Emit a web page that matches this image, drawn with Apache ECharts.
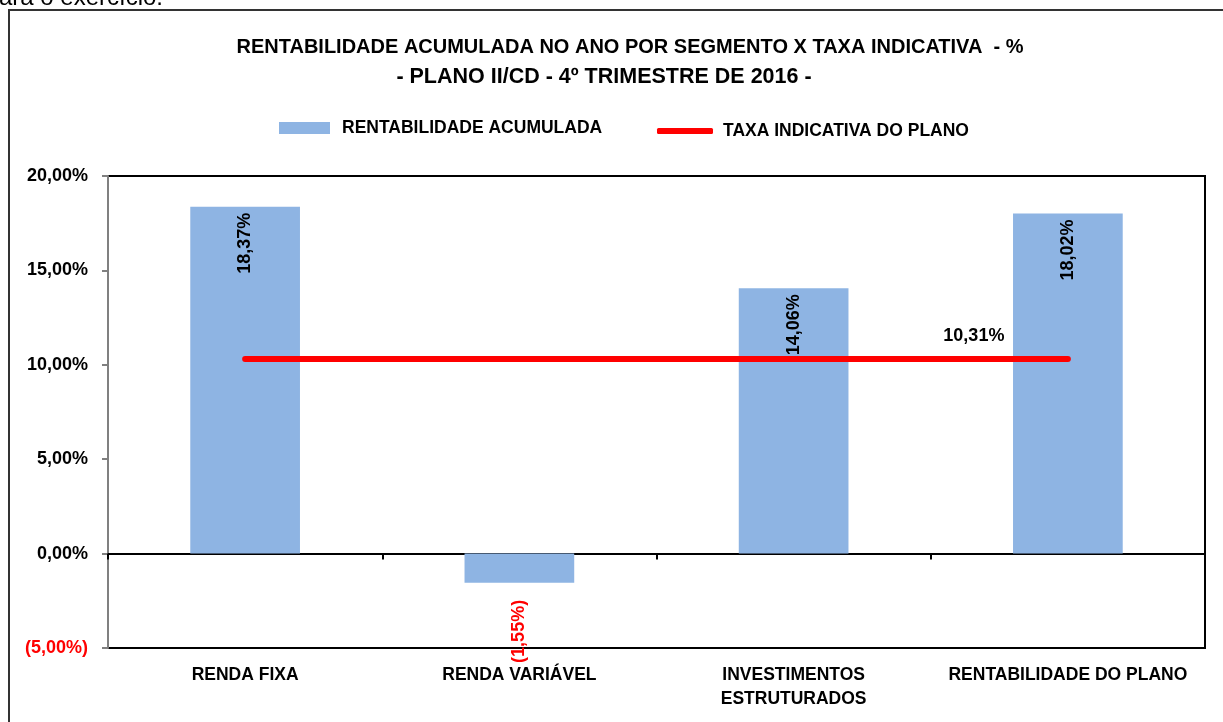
<!DOCTYPE html>
<html>
<head>
<meta charset="utf-8">
<script src="https://cdn.jsdelivr.net/npm/echarts@6/dist/echarts.min.js"></script>
<style>
html,body{margin:0;padding:0;background:#fff;}
#chart{width:1223px;height:722px;}
</style>
</head>
<body>
<div id="chart"></div>
<script>
const categories = ['RENDA FIXA', 'RENDA VARIÁVEL', 'INVESTIMENTOS\nESTRUTURADOS', 'RENTABILIDADE DO PLANO'];
const rentabilidade = [18.37, -1.55, 14.06, 18.02];
const taxaIndicativa = [10.31, 10.31, 10.31, 10.31];
const yTicks = [-5, 0, 5, 10, 15, 20];
const titleLine1 = 'RENTABILIDADE ACUMULADA NO ANO POR SEGMENTO X TAXA INDICATIVA  - %';
const titleLine2 = '- PLANO II/CD - 4º TRIMESTRE DE 2016 -';
const seriesNames = ['RENTABILIDADE ACUMULADA', 'TAXA INDICATIVA DO PLANO'];

const ARIAL = "'Liberation Sans', Arial, sans-serif";

function fmt(v) {
  const s = Math.abs(v).toFixed(2).replace('.', ',') + '%';
  return v < 0 ? '(' + s + ')' : s;
}

const chart = echarts.init(document.getElementById('chart'), null, {renderer: 'canvas'});
chart.setOption({
  animation: false,
  backgroundColor: '#fff',
  title: [
    {text: titleLine1, left: 625, top: 32, textAlign: 'center',
     textStyle: {fontFamily: ARIAL, fontWeight: 'bold', fontSize: 20, color: '#000'}},
    {text: titleLine2, left: 599, top: 61, textAlign: 'center',
     textStyle: {fontFamily: ARIAL, fontWeight: 'bold', fontSize: 21.5, color: '#000'}}
  ],
  graphic: [
    {type: 'rect', shape: {x: 9, y: 10, width: 1400, height: 900},
     style: {fill: 'none', stroke: '#333', lineWidth: 2}, z: 100, silent: true},
    {type: 'text', x: 163, y: -2, style: {text: 'ara o exercício.', font: '24px ' + ARIAL,
     fill: '#000', align: 'right', verticalAlign: 'middle'}, z: 100}
  ],
  legend: [
    {data: [seriesNames[0]], left: 274, top: 114, itemWidth: 51, itemHeight: 12, icon: 'rect',
     itemGap: 0,
     textStyle: {fontFamily: ARIAL, fontWeight: 'bold', fontSize: 17.5, color: '#000', padding: [0, 0, 0, 7]}},
    {data: [seriesNames[1]], left: 652, top: 117, itemWidth: 56, itemHeight: 6, icon: 'roundRect',
     itemGap: 0,
     textStyle: {fontFamily: ARIAL, fontWeight: 'bold', fontSize: 17.5, color: '#000', padding: [0, 0, 0, 5]}}
  ],
  grid: {left: 108, right: 18, top: 176, bottom: 74, show: true, borderColor: '#000', borderWidth: 2,
         backgroundColor: 'transparent'},
  xAxis: [
    {type: 'category', data: categories,
     axisLine: {onZero: true, lineStyle: {color: '#000', width: 2}},
     axisTick: {show: true, length: 6, interval: 0, lineStyle: {color: '#000', width: 2}},
     axisLabel: {show: false}, splitLine: {show: false}},
    {type: 'category', data: categories, position: 'bottom',
     axisLine: {show: false, onZero: false}, axisTick: {show: false}, splitLine: {show: false},
     axisLabel: {interval: 0, margin: 15, fontFamily: ARIAL, fontWeight: 'bold', fontSize: 17.5,
       color: '#000', lineHeight: 24}}
  ],
  yAxis: {
    type: 'value', min: -5, max: 20, interval: 5,
    axisLine: {show: true, lineStyle: {color: '#808080', width: 2}},
    axisTick: {show: true, length: 6, lineStyle: {color: '#808080', width: 2}},
    splitLine: {show: false},
    axisLabel: {margin: 20, fontFamily: ARIAL, fontWeight: 'bold', fontSize: 18,
      color: function (v) { return v < 0 ? '#FF0000' : '#000'; },
      formatter: function (v) { return fmt(v); }}
  },
  series: [
    {name: seriesNames[0], type: 'bar', xAxisIndex: 0, barWidth: '40%',
     itemStyle: {color: '#8EB4E3'},
     data: rentabilidade.map(function (v) {
       const neg = v < 0;
       return {value: v, label: {
         show: true, rotate: 90, align: 'right', verticalAlign: 'middle',
         position: neg ? 'bottom' : 'insideTop', distance: neg ? 17 : 6,
         color: neg ? '#FF0000' : '#000',
         fontFamily: ARIAL, fontWeight: 'bold', fontSize: 18,
         formatter: function (p) { return fmt(p.value); }
       }};
     }),
     z: 2},
    {name: seriesNames[1], type: 'line', xAxisIndex: 0, symbol: 'circle', symbolSize: 1, showSymbol: true,
     itemStyle: {color: '#FF0000'},
     lineStyle: {color: '#FF0000', width: 6, cap: 'round'},
     data: taxaIndicativa.map(function (v, i) {
       return {value: v, label: i === taxaIndicativa.length - 1 ? {
         show: true, position: 'top', distance: 5, offset: [-94, -8],
         fontFamily: ARIAL, fontWeight: 'bold', fontSize: 18, color: '#000',
         formatter: function (p) { return fmt(p.value); }} : {show: false}};
     }),
     z: 3}
  ]
});
</script>
</body>
</html>
